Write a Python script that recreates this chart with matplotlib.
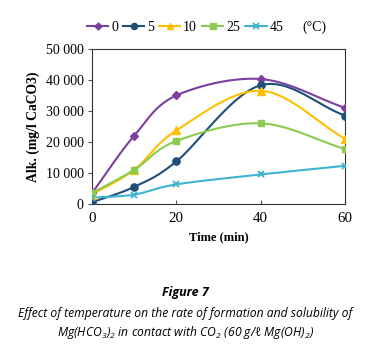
import numpy as np
import matplotlib
matplotlib.use("Agg")
import matplotlib.pyplot as plt
from matplotlib.ticker import FuncFormatter

plt.rcParams["mathtext.fontset"] = "custom"
plt.rcParams["mathtext.rm"] = "Open Sans:italic"
plt.rcParams["mathtext.it"] = "Open Sans:italic"

time = [0, 10, 20, 40, 60]
labels = ["0", "5", "10", "25", "45"]
s0 = [3500, 22000, 35000, 40300, 31000]
s5 = [500, 5500, 13700, 38300, 28500]
s10 = [3000, 11000, 23700, 36500, 21000]
s25 = [3500, 11000, 20300, 26000, 17700]
s45 = [2000, 3000, 6300, 9500, 12300]
series = [s0, s5, s10, s25, s45]
colors = ["#7B3FA0", "#1F4E79", "#FFC000", "#8CCB50", "#3FB3CF"]
markers = ["D", "o", "^", "s", "x"]
msizes = [4.2, 5.2, 5.5, 5, 5]

def smooth(x, y, n=30):
    x = np.asarray(x, float); y = np.asarray(y, float)
    px = np.concatenate([[2*x[0]-x[1]], x, [2*x[-1]-x[-2]]])
    py = np.concatenate([[2*y[0]-y[1]], y, [2*y[-1]-y[-2]]])
    xs, ys = [], []
    t = np.linspace(0, 1, n)
    for i in range(1, len(px)-2):
        for arr, out in ((px, xs), (py, ys)):
            p0, p1, p2, p3 = arr[i-1], arr[i], arr[i+1], arr[i+2]
            m1 = (p2 - p0) / 6.0
            m2 = (p3 - p1) / 6.0
            b1 = p1 + m1; b2 = p2 - m2
            out.extend((1-t)**3*p1 + 3*(1-t)**2*t*b1 + 3*(1-t)*t**2*b2 + t**3*p2)
    return np.array(xs), np.array(ys)

fig = plt.figure(figsize=(3.71, 3.45), dpi=100)
ax = fig.add_axes([0.248, 0.409, 0.682, 0.449])
serif = "Liberation Serif"
handles = []
for ys, c, m, ms, lab in zip(series, colors, markers, msizes, labels):
    sx, sy = smooth(time, ys)
    mew = 1.4 if m == "x" else 1
    ax.plot(sx, sy, color=c, lw=1.5, zorder=2)
    ax.plot(time, ys, ls="none", marker=m, color=c, ms=ms, mew=mew, zorder=3)
    h, = ax.plot([], [], color=c, lw=1.5, marker=m, ms=ms * 0.85, mew=mew)
    handles.append(h)

ax.set_xlim(0, 60)
ax.set_ylim(0, 50000)
ax.set_xticks([0, 20, 40, 60])
ax.set_yticks([0, 10000, 20000, 30000, 40000, 50000])
ax.yaxis.set_major_formatter(FuncFormatter(lambda v, p: f"{int(v):,}".replace(",", " ")))
for sp in ax.spines.values():
    sp.set_color("#333333"); sp.set_linewidth(0.8)
ax.tick_params(length=3, width=0.8, color="#555555")
ax.tick_params(axis="y", labelsize=10, pad=3)
ax.tick_params(axis="x", labelsize=10.8, pad=6, direction="in")
for t in ax.get_xticklabels() + ax.get_yticklabels():
    t.set_family(serif)
ax.set_xlabel("Time (min)", family=serif, fontweight="bold", fontsize=9, labelpad=4)
ax.set_ylabel("Alk. (mg/l CaCO3)", family=serif, fontweight="bold", fontsize=9.8, labelpad=4)

leg = fig.legend(handles, labels, loc="center left", bbox_to_anchor=(0.234, 0.92), ncol=5,
                 frameon=False, prop={"family": serif, "size": 10}, handlelength=1.55,
                 handletextpad=0.2, columnspacing=0.35, borderaxespad=0, borderpad=0)
fig.text(0.814, 0.92, "(°C)", family=serif, fontsize=10, ha="left", va="center")

cap = "Open Sans"
fig.text(0.5, 0.152, "Figure 7", family=cap, style="italic", fontweight="bold", fontsize=9, ha="center", va="center")
fig.text(0.5, 0.092, "Effect of temperature on the rate of formation and solubility of",
         family=cap, style="italic", fontsize=8.7, ha="center", va="center")
fig.text(0.5, 0.035, r"Mg(HCO$_3$)$_2$ in contact with CO$_2$ (60 g/ℓ Mg(OH)$_2$)",
         family=cap, style="italic", fontsize=8.7, ha="center", va="center")
fig.savefig("out.png", dpi=100)
